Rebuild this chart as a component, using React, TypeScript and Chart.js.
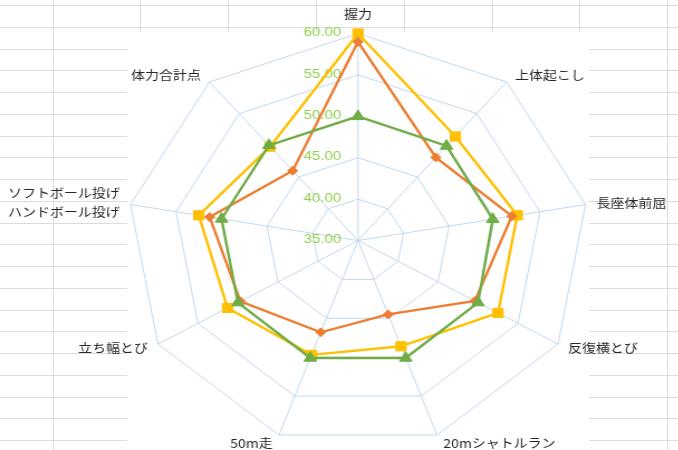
import React, { useEffect, useRef } from 'react';
import { Chart, registerables } from 'chart.js';

Chart.register(...registerables);

// ---------------- data ----------------
const categories: (string | string[])[] = [
  '握力',
  '上体起こし',
  '長座体前屈',
  '反復横とび',
  '20mシャトルラン',
  '50m走',
  '立ち幅とび',
  ['ソフトボール投げ', 'ハンドボール投げ'],
  '体力合計点',
];
const seriesOrange = [59.0, 48.1, 51.9, 49.6, 44.5, 46.8, 49.7, 51.3, 46.0];
const seriesYellow = [60.0, 51.4, 52.5, 52.5, 48.6, 49.7, 51.3, 52.5, 49.8];
const seriesGreen = [50.0, 49.9, 49.8, 50.0, 50.1, 50.1, 50.0, 50.0, 50.0];
const scaleMin = 35;
const scaleMax = 60;
const scaleStep = 5;

// ---------------- layout ----------------
const PAGE_W = 678;
const PAGE_H = 450;
const STRETCH = 1.116; // the reference picture is stretched horizontally
const CANVAS_W = Math.round(PAGE_W / STRETCH);
const CENTER_X = 358 / STRETCH;
const CENTER_Y = 240.5;
const RADIUS = 207;

const SHEET_ROW0 = 5;
const SHEET_ROW_H = 21.75;
const SHEET_COL0 = 52.5;
const SHEET_COL_W = 87.8;
const PLOT_BOX = { left: 127, top: 32, width: 462, height: 418 };

const GRID_BLUE = '#C3D8EE';
const TICK_GREEN = '#92D050';
const LABEL_COLOR = '#262626';
const LABEL_FONT = '12.5px "Noto Sans CJK JP", "Noto Sans", sans-serif';
const TICK_FONT = '13.5px "Liberation Sans", Arial, sans-serif';

const excelLabels = {
  id: 'excelLabels',
  beforeDatasetsDraw(chart: any) {
    const scale = chart.scales.r;
    const ctx = chart.ctx as CanvasRenderingContext2D;
    ctx.save();
    ctx.font = TICK_FONT;
    ctx.fillStyle = TICK_GREEN;
    ctx.textAlign = 'right';
    ctx.textBaseline = 'middle';
    scale.ticks.forEach((t: any) => {
      const d = scale.getDistanceFromCenterForValue(t.value);
      const text = typeof t.label === 'string' ? t.label : Number(t.value).toFixed(2);
      ctx.fillText(text, scale.xCenter - 15, scale.yCenter - d - 1);
    });
    ctx.restore();
  },
  afterDraw(chart: any) {
    const scale = chart.scales.r;
    const ctx = chart.ctx as CanvasRenderingContext2D;
    const labels = chart.data.labels as (string | string[])[];
    ctx.save();
    ctx.font = LABEL_FONT;
    ctx.fillStyle = LABEL_COLOR;
    ctx.textBaseline = 'middle';
    labels.forEach((lab, i) => {
      const p = scale.getPointPosition(i, scale.drawingArea);
      const ang = scale.getIndexAngle(i);
      const s = Math.sin(ang);
      const c = Math.cos(ang);
      const centered = Math.abs(s) < 0.01;
      ctx.textAlign = centered ? 'center' : s > 0 ? 'left' : 'right';
      const gap = centered ? 0 : (4 + 7 * Math.abs(s)) / STRETCH;
      const x = p.x + Math.sign(s) * gap;
      const cy = p.y - c * 9 - (centered ? 10.5 : 0);
      const lines = Array.isArray(lab) ? lab : [lab];
      const lh = 19;
      lines.forEach((t, k) => {
        ctx.fillText(t, x, cy + (k - (lines.length - 1) / 2) * lh);
      });
    });
    ctx.restore();
  },
};

export default function App() {
  const ref = useRef<HTMLCanvasElement>(null);

  useEffect(() => {
    const canvas = ref.current;
    if (!canvas) return;
    const mk = (label: string, data: number[], color: string, style: any, r: number) => ({
      label,
      data,
      borderColor: color,
      backgroundColor: color,
      pointBackgroundColor: color,
      pointBorderColor: color,
      pointBorderWidth: 1,
      pointStyle: style,
      pointRadius: r,
      borderWidth: 2.4,
      fill: false,
      tension: 0,
    });
    const chart = new Chart(canvas, {
      type: 'radar',
      data: {
        labels: categories as any,
        datasets: [
          mk('系列3', seriesGreen, '#70AD47', 'triangle', 6.5),
          mk('系列1', seriesOrange, '#ED7D31', 'rectRot', 4.5),
          mk('系列2', seriesYellow, '#FFC000', 'rect', 6.5),
        ],
      },
      options: {
        responsive: false,
        maintainAspectRatio: false,
        animation: false,
        plugins: {
          legend: { display: false },
          tooltip: { enabled: false },
        },
        scales: {
          r: {
            min: scaleMin,
            max: scaleMax,
            beginAtZero: false,
            ticks: {
              stepSize: scaleStep,
              display: false,
              callback: (v: any) => Number(v).toFixed(2),
            },
            grid: { color: GRID_BLUE, lineWidth: 1 },
            angleLines: { color: GRID_BLUE, lineWidth: 1 },
            pointLabels: { display: false },
            afterFit: (s: any) => {
              s.xCenter = CENTER_X;
              s.yCenter = CENTER_Y;
              s.drawingArea = RADIUS;
            },
          } as any,
        },
      },
      plugins: [excelLabels],
    });
    return () => chart.destroy();
  }, []);

  const rows: number[] = [];
  for (let y = SHEET_ROW0; y < PAGE_H; y += SHEET_ROW_H) rows.push(Math.round(y));
  const cols: number[] = [];
  for (let x = SHEET_COL0; x < PAGE_W; x += SHEET_COL_W) cols.push(Math.round(x));

  return (
    <div
      style={{
        position: 'fixed',
        left: 0,
        top: 0,
        width: PAGE_W,
        height: PAGE_H,
        overflow: 'hidden',
        background: '#fff',
      }}
    >
      {rows.map((y) => (
        <div
          key={'r' + y}
          style={{ position: 'absolute', left: 0, top: y, width: PAGE_W, height: 1, background: '#DCDCDC' }}
        />
      ))}
      {cols.map((x) => (
        <div
          key={'c' + x}
          style={{ position: 'absolute', left: x, top: 0, width: 1, height: PAGE_H, background: '#DCDCDC' }}
        />
      ))}
      <div
        style={{
          position: 'absolute',
          left: PLOT_BOX.left,
          top: PLOT_BOX.top,
          width: PLOT_BOX.width,
          height: PLOT_BOX.height,
          background: '#fff',
        }}
      />
      <div
        style={{
          position: 'absolute',
          left: 0,
          top: 0,
          width: CANVAS_W,
          height: PAGE_H,
          transform: `scaleX(${STRETCH})`,
          transformOrigin: '0 0',
        }}
      >
        <canvas
          ref={ref}
          width={CANVAS_W}
          height={PAGE_H}
          style={{ display: 'block', width: CANVAS_W, height: PAGE_H }}
        />
      </div>
    </div>
  );
}
